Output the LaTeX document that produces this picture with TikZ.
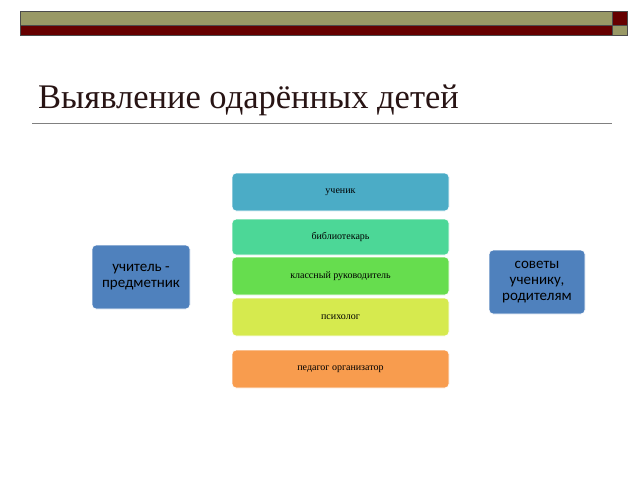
\documentclass[tikz,border=0pt]{standalone}
\usepackage{fontspec}
\setmainfont{Liberation Serif}
\newfontfamily\sidefont{Carlito}
\begin{document}
\begin{tikzpicture}[x=1pt,y=-1pt,
  bar/.style={draw=black!70,line width=0.6pt},
  cbox/.style={rounded corners=4pt,draw=white,line width=0.8pt,inner sep=0pt,font=\fontsize{10}{11}\selectfont},
  sbox/.style={rounded corners=4pt,draw=white,line width=0.8pt,fill=sideblue,align=center,font=\sidefont\fontsize{15}{16}\selectfont,text=black,inner sep=1pt}]
\definecolor{olive}{HTML}{999966}
\definecolor{dred}{HTML}{660000}
\definecolor{sideblue}{HTML}{4F81BD}
\useasboundingbox (0,0) rectangle (640,480);
\fill[white] (0,0) rectangle (640,480);
\draw[bar,fill=olive] (20,11) rectangle (612,25);
\draw[bar,fill=dred] (612,11) rectangle (627,25);
\draw[bar,fill=dred] (20,25) rectangle (612,35);
\draw[bar,fill=olive] (612,25) rectangle (627,35);
\node[anchor=base west,inner sep=0pt,font=\fontsize{34.5}{36}\selectfont,text={rgb,255:red,40;green,20;blue,20}] (title) at (38,108) {Выявление одарённых детей};
\draw[gray,line width=1pt] (32,123) -- (612,123);
\node[cbox,fill={rgb,255:red,75;green,172;blue,198},minimum width=217pt,minimum height=38pt] (b1) at (340.5,192) {ученик};
\node[cbox,fill={rgb,255:red,76;green,215;blue,151},minimum width=217pt,minimum height=36pt] (b2) at (340.5,237) {библиотекарь};
\node[cbox,fill={rgb,255:red,102;green,221;blue,78},minimum width=217pt,minimum height=38pt] (b3) at (340.5,276) {классный руководитель};
\node[cbox,fill={rgb,255:red,214;green,234;blue,78},minimum width=217pt,minimum height=38pt] (b4) at (340.5,317) {психолог};
\node[cbox,fill={rgb,255:red,248;green,156;blue,78},minimum width=217pt,minimum height=38pt] (b5) at (340.5,369) {педагог организатор};
\node[sbox,minimum width=98pt,minimum height=64pt] (l) at (141,277) {учитель -\\предметник};
\node[sbox,minimum width=96pt,minimum height=64pt] (r) at (537,282) {советы\\ученику,\\родителям};
\end{tikzpicture}
\end{document}
